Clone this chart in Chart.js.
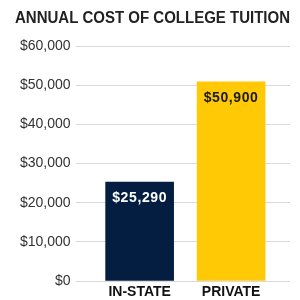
<!DOCTYPE html>
<html lang="en">
<head>
    <meta charset="UTF-8">
    <script src="https://cdn.jsdelivr.net/npm/chart.js@4/dist/chart.umd.min.js"></script>
    <title>Annual cost of college tuition</title>
    <style>
        html, body { margin: 0; padding: 0; background: #fff; }
        #wrap { width: 300px; height: 300px; }
    </style>
</head>
<body>
    <div id="wrap">
        <canvas id="myChart" width="300" height="300"></canvas>
    </div>
    <script>
        // data
        const categories = ['IN-STATE', 'PRIVATE'];
        const costs = [25290, 50900];
        const barColors = ['#041E42', '#FFC905'];
        const labelColors = ['#ffffff', '#1a1a1a'];
        const yTicks = [0, 10000, 20000, 30000, 40000, 50000, 60000];

        const money = v => '$' + v.toLocaleString('en-US');

        // values on top of the bars, just under the top edge
        const valueLabels = {
            id: 'valueLabels',
            afterDatasetsDraw(chart) {
                const c = chart.ctx;
                const meta = chart.getDatasetMeta(0);
                c.save();
                c.font = 'bold 14px "Liberation Sans", Arial, sans-serif';
                c.letterSpacing = '0.6px';
                c.textAlign = 'center';
                c.textBaseline = 'middle';
                meta.data.forEach((bar, i) => {
                    c.fillStyle = labelColors[i];
                    c.fillText(money(costs[i]), bar.x, bar.y + 16);
                });
                c.restore();
            }
        };

        const ctx = document.getElementById('myChart').getContext('2d');
        const myChart = new Chart(ctx, {
            type: 'bar',
            data: {
                datasets: [{
                    data: costs.map((v, i) => ({ x: i, y: v })),
                    backgroundColor: barColors,
                    borderWidth: 0,
                    barThickness: 68
                }]
            },
            options: {
                responsive: false,
                animation: false,
                layout: { padding: { left: 15, right: 10, top: 0, bottom: -3 } },
                plugins: {
                    legend: { display: false },
                    tooltip: { enabled: false },
                    title: {
                        display: true,
                        text: 'ANNUAL COST OF COLLEGE TUITION',
                        align: 'start',
                        color: '#222222',
                        font: { family: '"Liberation Sans", Arial, sans-serif', size: 16, weight: 'bold' },
                        padding: { top: 9, bottom: 18 }
                    }
                },
                scales: {
                    x: {
                        type: 'linear',
                        offset: false,
                        min: -0.70,
                        max: 1.644,
                        grid: { display: false, drawTicks: false },
                        border: { display: false },
                        ticks: {
                            stepSize: 1,
                            autoSkip: false,
                            maxRotation: 0,
                            padding: 4,
                            color: '#111111',
                            font: { family: '"Liberation Sans", Arial, sans-serif', size: 14, weight: 'bold', lineHeight: 1 },
                            callback: v => Number.isInteger(v) && categories[v] ? categories[v] : ''
                        }
                    },
                    y: {
                        min: yTicks[0],
                        max: yTicks[yTicks.length - 1],
                        grid: { color: '#d9d9d9', lineWidth: 1, drawTicks: false },
                        border: { display: false },
                        afterBuildTicks: axis => { axis.ticks = yTicks.map(v => ({ value: v })); },
                        ticks: {
                            padding: 5,
                            color: '#333333',
                            font: { family: '"Liberation Sans", Arial, sans-serif', size: 14 },
                            callback: v => money(v)
                        }
                    }
                }
            },
            plugins: [valueLabels]
        });
    </script>
</body>
</html>
